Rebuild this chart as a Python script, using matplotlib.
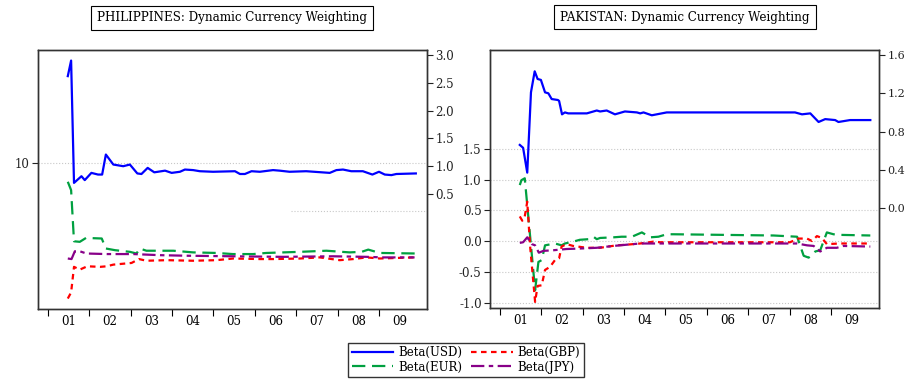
import numpy as np
import matplotlib
matplotlib.use("Agg")
import matplotlib.pyplot as plt

plt.rcParams['font.family'] = ['DejaVu Serif']

# ---- PHILIPPINES (decimal year, value on right-axis scale) ----
ph_usd_t = [2001.48, 2001.56, 2001.63, 2001.81, 2001.89, 2002.05, 2002.21, 2002.31, 2002.40, 2002.58,
            2002.82, 2002.98, 2003.16, 2003.26, 2003.41, 2003.57, 2003.83, 2003.99, 2004.19, 2004.31,
            2004.51, 2004.67, 2004.99, 2005.52, 2005.64, 2005.76, 2005.92, 2006.12, 2006.44, 2006.60,
            2006.84, 2007.24, 2007.81, 2007.97, 2008.13, 2008.33, 2008.61, 2008.84, 2009.00, 2009.14,
            2009.30, 2009.42, 2009.89]
ph_usd_v = [2.62, 2.90, 0.70, 0.82, 0.75, 0.88, 0.85, 0.85, 1.21, 1.03,
            1.00, 1.03, 0.87, 0.86, 0.97, 0.89, 0.92, 0.88, 0.90, 0.94,
            0.93, 0.91, 0.90, 0.91, 0.86, 0.86, 0.91, 0.90, 0.93, 0.92,
            0.90, 0.91, 0.88, 0.93, 0.94, 0.91, 0.91, 0.85, 0.90, 0.85,
            0.84, 0.86, 0.87]

ph_eur_t = [2001.48, 2001.56, 2001.63, 2001.77, 2001.92, 2002.30, 2002.40, 2002.62, 2002.98, 2003.14,
            2003.22, 2003.38, 2004.03, 2004.51, 2005.07, 2005.47, 2005.96, 2006.28, 2007.09, 2007.73,
            2008.29, 2008.58, 2008.74, 2009.02, 2009.91]
ph_eur_v = [0.72, 0.57, -0.35, -0.36, -0.29, -0.30, -0.48, -0.51, -0.54, -0.57,
            -0.48, -0.52, -0.52, -0.55, -0.56, -0.58, -0.58, -0.56, -0.54, -0.52,
            -0.55, -0.54, -0.50, -0.56, -0.57]

ph_gbp_t = [2001.48, 2001.56, 2001.63, 2001.77, 2001.95, 2002.26, 2002.42, 2002.58, 2003.02, 2003.20,
            2003.38, 2003.87, 2004.51, 2005.07, 2005.48, 2006.12, 2006.44, 2007.09, 2007.57, 2008.05,
            2008.38, 2008.70, 2009.02, 2009.86]
ph_gbp_v = [-1.38, -1.27, -0.81, -0.86, -0.80, -0.81, -0.80, -0.77, -0.74, -0.67,
            -0.70, -0.69, -0.70, -0.69, -0.66, -0.67, -0.67, -0.66, -0.64, -0.69,
            -0.67, -0.64, -0.66, -0.64]

ph_jpy_t = [2001.48, 2001.57, 2001.65, 2001.77, 2001.93, 2002.42, 2003.06, 2003.71, 2004.35, 2005.48,
            2006.68, 2007.89, 2008.70, 2009.10, 2009.86]
ph_jpy_v = [-0.66, -0.67, -0.53, -0.53, -0.57, -0.58, -0.58, -0.60, -0.61, -0.62,
            -0.63, -0.62, -0.63, -0.64, -0.64]

# ---- PAKISTAN (USD on right axis, others on left axis) ----
pk_usd_t = [2001.48, 2001.56, 2001.66, 2001.75, 2001.84, 2001.91, 2001.99, 2002.09, 2002.17, 2002.25,
            2002.40, 2002.43, 2002.50, 2002.57, 2002.65, 2003.10, 2003.34, 2003.42, 2003.58, 2003.78,
            2004.02, 2004.31, 2004.39, 2004.47, 2004.67, 2005.03, 2006.50, 2008.13, 2008.30, 2008.50,
            2008.70, 2008.86, 2009.10, 2009.18, 2009.46, 2009.95]
pk_usd_v = [0.66, 0.63, 0.37, 1.21, 1.43, 1.35, 1.34, 1.21, 1.20, 1.14,
            1.13, 1.12, 0.98, 1.00, 0.99, 0.99, 1.02, 1.01, 1.02, 0.98,
            1.01, 1.00, 0.99, 1.00, 0.97, 1.00, 1.00, 1.00, 0.98, 0.99,
            0.90, 0.93, 0.92, 0.90, 0.92, 0.92]

pk_eur_t = [2001.48, 2001.52, 2001.60, 2001.85, 2001.93, 2002.01, 2002.09, 2002.33, 2002.49, 2002.57,
            2002.77, 2002.93, 2003.14, 2003.26, 2003.34, 2003.42, 2003.74, 2003.94, 2004.19, 2004.43,
            2004.63, 2004.83, 2005.03, 2005.19, 2007.61, 2008.18, 2008.34, 2008.46, 2008.62, 2008.74,
            2008.90, 2009.06, 2009.22, 2009.95]
pk_eur_v = [0.91, 0.99, 1.02, -0.80, -0.34, -0.31, -0.07, -0.04, -0.07, -0.04,
            -0.01, 0.02, 0.03, 0.07, 0.03, 0.05, 0.06, 0.07, 0.07, 0.14,
            0.06, 0.07, 0.11, 0.11, 0.09, 0.07, -0.24, -0.27, -0.17, -0.15,
            0.14, 0.11, 0.10, 0.09]

pk_gbp_t = [2001.48, 2001.54, 2001.60, 2001.66, 2001.73, 2001.85, 2001.91, 2002.01, 2002.09, 2002.21,
            2002.33, 2002.43, 2002.49, 2002.61, 2002.77, 2003.10, 2003.42, 2003.82, 2004.06, 2004.39,
            2004.71, 2004.87, 2005.19, 2008.01, 2008.21, 2008.42, 2008.54, 2008.66, 2008.78, 2008.90,
            2009.22, 2009.95]
pk_gbp_v = [0.40, 0.33, 0.40, 0.64, -0.09, -0.99, -0.73, -0.72, -0.47, -0.42,
            -0.31, -0.28, -0.09, -0.05, -0.08, -0.11, -0.11, -0.07, -0.06, -0.04,
            -0.01, -0.02, -0.02, -0.02, 0.04, 0.04, 0.00, 0.08, 0.05, -0.05,
            -0.04, -0.04]

pk_jpy_t = [2001.48, 2001.56, 2001.66, 2001.77, 2001.85, 2001.94, 2002.05, 2002.29, 2002.61, 2003.01,
            2003.34, 2003.74, 2004.06, 2004.39, 2004.79, 2008.18, 2008.42, 2008.58, 2008.74, 2008.90,
            2009.14, 2009.30, 2009.95]
pk_jpy_v = [-0.03, -0.02, 0.06, -0.05, -0.07, -0.19, -0.16, -0.15, -0.13, -0.12,
            -0.11, -0.08, -0.06, -0.04, -0.04, -0.04, -0.07, -0.08, -0.17, -0.11,
            -0.11, -0.08, -0.09]

years = [2001, 2002, 2003, 2004, 2005, 2006, 2007, 2008, 2009]
year_labels = ['01', '02', '03', '04', '05', '06', '07', '08', '09']

c_usd = '#0000ff'
c_gbp = '#ff0000'
c_eur = '#00a040'
c_jpy = '#880088'
lw = 1.6
fs = 8.5

fig = plt.figure(figsize=(9.06, 3.8), dpi=100)

def setup_x(ax):
    ax.set_xlim(2000.76, 2010.16)
    ax.set_xticks(years)
    ax.set_xticklabels([])
    ax.set_xticks([y + 0.5 for y in years], minor=True)
    ax.set_xticklabels(year_labels, minor=True, fontsize=fs)
    ax.tick_params(axis='x', which='major', direction='out', length=5, width=0.8)
    ax.tick_params(axis='x', which='minor', length=0, pad=4)

def plot_lines(ax_main, ax_usd, usd, eur, gbp, jpy):
    ax_main.plot(eur[0], eur[1], color=c_eur, lw=lw, dashes=(6, 3), label='Beta(EUR)')
    ax_main.plot(gbp[0], gbp[1], color=c_gbp, lw=lw, dashes=(2.5, 2), label='Beta(GBP)')
    ax_main.plot(jpy[0], jpy[1], color=c_jpy, lw=lw, dashes=(6, 2, 2, 2), label='Beta(JPY)')
    ax_usd.plot(usd[0], usd[1], color=c_usd, lw=lw, label='Beta(USD)')

# left panel
axL = fig.add_axes([38 / 906, 1 - 309 / 380, 389 / 906, 259 / 380])
axL2 = axL.twinx()
for a in (axL, axL2):
    a.set_ylim(-1.568, 3.09)
setup_x(axL)
axL.set_yticks([1.06])
axL.set_yticklabels(['10'], fontsize=fs)
axL.axhline(1.06, color='#c8c8c8', lw=0.8, ls=':')
axL.axhline(0.19, xmin=0.65, xmax=1.0, color='#c8c8c8', lw=0.8, ls=':')
axL2.set_yticks([0.5, 1.0, 1.5, 2.0, 2.5, 3.0])
axL2.set_yticklabels(['0.5', '1.0', '1.5', '2.0', '2.5', '3.0'], fontsize=fs)
plot_lines(axL, axL2, (ph_usd_t, ph_usd_v), (ph_eur_t, ph_eur_v),
           (ph_gbp_t, ph_gbp_v), (ph_jpy_t, ph_jpy_v))

# right panel
axR = fig.add_axes([490 / 906, 1 - 308 / 380, 389 / 906, 258 / 380])
axR2 = axR.twinx()
axR.set_ylim(-1.089, 3.106)
axR2.set_ylim(-1.046, 1.653)
setup_x(axR)
rt = [-1.0, -0.5, 0.0, 0.5, 1.0, 1.5]
axR.set_yticks(rt)
axR.set_yticklabels(['-1.0', '-0.5', '0.0', '0.5', '1.0', '1.5'], fontsize=fs)
for v in rt:
    axR.axhline(v, color='#c8c8c8', lw=0.8, ls=':')
axR2.set_yticks([0.0, 0.4, 0.8, 1.2, 1.6])
axR2.set_yticklabels(['0.0', '0.4', '0.8', '1.2', '1.6'], fontsize=fs)
plot_lines(axR, axR2, (pk_usd_t, pk_usd_v), (pk_eur_t, pk_eur_v),
           (pk_gbp_t, pk_gbp_v), (pk_jpy_t, pk_jpy_v))

for a in (axL, axL2, axR, axR2):
    a.tick_params(axis='y', direction='out', length=4, width=0.8, pad=2, colors='#222222')
    for s in a.spines.values():
        s.set_linewidth(1.0)
        s.set_color('#333333')
axR2.tick_params(axis='y', labelsize=8)

box = dict(boxstyle='square,pad=0.5', fc='white', ec='black', lw=0.8)
fig.text(232 / 906, 1 - 18 / 380, 'PHILIPPINES: Dynamic Currency Weighting',
         ha='center', va='center', fontsize=8.6, bbox=box)
fig.text(685 / 906, 1 - 17 / 380, 'PAKISTAN: Dynamic Currency Weighting',
         ha='center', va='center', fontsize=8.6, bbox=box)

h1, l1 = axL2.get_legend_handles_labels()
h2, l2 = axL.get_legend_handles_labels()
handles = [h1[0], h2[0], h2[1], h2[2]]
labels = [l1[0], l2[0], l2[1], l2[2]]
fig.legend(handles, labels, ncol=2, loc='center', bbox_to_anchor=(466 / 906, 1 - 360 / 380),
           fontsize=fs, frameon=True, fancybox=False, edgecolor='black',
           handlelength=3.5, handletextpad=0.4, columnspacing=0.8, labelspacing=0.1,
           borderpad=0.3, borderaxespad=0)

fig.savefig('out.png', dpi=100)
